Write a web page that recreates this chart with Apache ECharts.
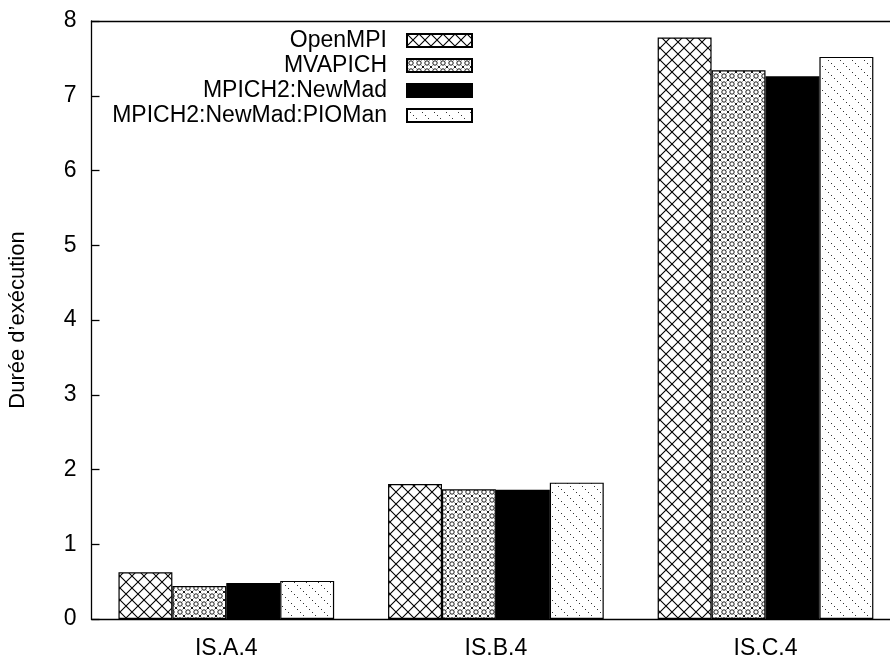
<!DOCTYPE html>
<html>
<head>
<meta charset="utf-8">
<script src="https://cdn.jsdelivr.net/npm/echarts@6/dist/echarts.min.js"></script>
<style>
html,body{margin:0;padding:0;background:#fff;}
#chart{width:890px;height:662px;}
</style>
</head>
<body>
<div id="chart"></div>
<script>
const categories = ['IS.A.4', 'IS.B.4', 'IS.C.4'];
const seriesNames = ['OpenMPI', 'MVAPICH', 'MPICH2:NewMad', 'MPICH2:NewMad:PIOMan'];
const openmpi = [0.625, 1.806, 7.78];
const mvapich = [0.44, 1.735, 7.34];
const newmad = [0.48, 1.73, 7.26];
const pioman = [0.51, 1.824, 7.52];
const yTicks = [0, 1, 2, 3, 4, 5, 6, 7, 8];
const yAxisName = 'Durée d’exécution';

function makeCanvas(w, h) {
  const c = document.createElement('canvas');
  c.width = w; c.height = h;
  const ctx = c.getContext('2d');
  ctx.fillStyle = '#fff';
  ctx.fillRect(0, 0, w, h);
  return [c, ctx];
}
function crossTile() {
  const [c, ctx] = makeCanvas(12, 12);
  ctx.strokeStyle = '#000';
  ctx.lineWidth = 1.1;
  ctx.beginPath();
  ctx.moveTo(-1, -1); ctx.lineTo(13, 13);
  ctx.moveTo(13, -1); ctx.lineTo(-1, 13);
  ctx.stroke();
  return c;
}
function denseTile() {
  const [c, ctx] = makeCanvas(8, 8);
  ctx.strokeStyle = '#000';
  ctx.lineWidth = 0.9;
  ctx.beginPath();
  ctx.arc(4, 4, 2.2, 0, Math.PI * 2);
  ctx.stroke();
  ctx.beginPath();
  [[0, 0], [8, 0], [0, 8], [8, 8]].forEach(function (p) {
    ctx.moveTo(p[0] - 1.4, p[1] - 1.4); ctx.lineTo(p[0] + 1.4, p[1] + 1.4);
    ctx.moveTo(p[0] + 1.4, p[1] - 1.4); ctx.lineTo(p[0] - 1.4, p[1] + 1.4);
  });
  ctx.stroke();
  return c;
}
function dottedTile() {
  const [c, ctx] = makeCanvas(12, 12);
  ctx.fillStyle = '#333';
  for (let i = 0; i < 12; i += 3) ctx.fillRect(i, i, 1, 1);
  return c;
}

const fills = [
  { image: crossTile(), repeat: 'repeat' },
  { image: denseTile(), repeat: 'repeat' },
  '#000',
  { image: dottedTile(), repeat: 'repeat' }
];
const values = [openmpi, mvapich, newmad, pioman];

const FONT = 'Liberation Sans';
const chart = echarts.init(document.getElementById('chart'), null, { renderer: 'canvas' });
chart.setOption({
  animation: false,
  backgroundColor: '#fff',
  textStyle: { fontFamily: FONT, color: '#000' },
  grid: { left: 91.5, top: 21, width: 808.8, bottom: 43, containLabel: false, outerBoundsMode: 'none' },
  legend: {
    orient: 'vertical',
    align: 'right',
    right: 417,
    top: 29,
    padding: 0,
    itemGap: 2,
    itemWidth: 65,
    itemHeight: 13,
    icon: 'rect',
    data: seriesNames,
    textStyle: { fontFamily: FONT, fontSize: 23, color: '#000', padding: [0, 15, 0, 0] }
  },
  xAxis: [{
    type: 'category',
    data: categories,
    position: 'bottom',
    axisLine: { lineStyle: { color: '#000', width: 1.3 } },
    axisTick: { inside: true, length: 8, lineStyle: { color: '#000', width: 1.3 } },
    axisLabel: { fontFamily: FONT, fontSize: 23, color: '#000', margin: 18 }
  }, {
    type: 'category',
    data: categories,
    position: 'top',
    axisLine: { lineStyle: { color: '#000', width: 1.3 } },
    axisTick: { inside: true, length: 8, lineStyle: { color: '#000', width: 1.3 } },
    axisLabel: { show: false }
  }],
  yAxis: {
    type: 'value',
    min: yTicks[0],
    max: yTicks[yTicks.length - 1],
    interval: 1,
    name: yAxisName,
    nameLocation: 'middle',
    nameGap: 63,
    nameTextStyle: { fontFamily: FONT, fontSize: 22, color: '#000' },
    axisLine: { show: true, lineStyle: { color: '#000', width: 1.3 } },
    axisTick: { show: true, inside: true, length: 8, lineStyle: { color: '#000', width: 1.3 } },
    splitLine: { show: false },
    axisLabel: { fontFamily: FONT, fontSize: 23, color: '#000', margin: 15 }
  },
  series: seriesNames.map(function (name, i) {
    return {
      name: name,
      type: 'bar',
      xAxisIndex: 0,
      data: values[i],
      barGap: '0%',
      barCategoryGap: '20%',
      itemStyle: { color: fills[i], borderColor: '#000', borderWidth: 1.2 }
    };
  })
});
</script>
</body>
</html>
